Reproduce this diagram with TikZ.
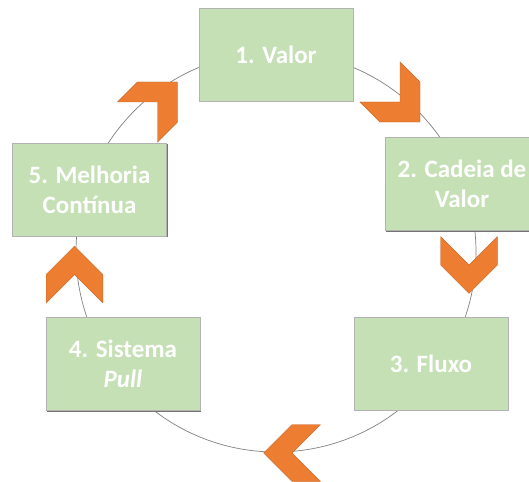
\documentclass[tikz,border=0pt]{standalone}
\usepackage{fontspec}
\setmainfont{Carlito}
\definecolor{stepgreen}{HTML}{C5E0B4}
\definecolor{arroworange}{HTML}{ED7D31}
\definecolor{ringgray}{HTML}{808080}
\begin{document}
\begin{tikzpicture}[x=1pt,y=-1pt,
  stepbox/.style={rectangle, minimum width=154pt, minimum height=93pt,
    fill=stepgreen, draw=black!30, line width=0.5pt, inner sep=0pt,
    text=white, align=center,
    font=\fontsize{25}{30}\selectfont\bfseries},
  boxshadow/.style={fill=black!55},
  chev/.style={fill=arroworange, draw=arroworange!85!black, line width=0.4pt, line join=miter},
  ring/.style={draw=ringgray, line width=0.7pt}]
  \clip (0,0) rectangle (529,481);
  \fill[white] (0,0) rectangle (529,481);

  % cycle ring behind the steps
  \coordinate (hub) at (276,252);
  \draw[ring] (hub) circle[radius=200];

  % drop shadows of the step boxes
  \foreach \cx/\cy in {276/54.5, 462/184, 431/363.5, 123/364, 89.5/189.5}
    \fill[boxshadow] (\cx-77+1.2,\cy-46.5+1.2) rectangle (\cx+77+1.2,\cy+46.5+1.2);

  % the five steps
  \node[stepbox] (valor)    at (276,54.5)  {1. Valor};
  \node[stepbox] (cadeia)   at (462,184)   {2. Cadeia de\\Valor};
  \node[stepbox] (fluxo)    at (431,363.5) {3. Fluxo};
  \node[stepbox] (pull)     at (123,364)   {4. Sistema\\\textit{Pull}};
  \node[stepbox] (melhoria) at (89.5,189.5){5. Melhoria\\Contínua};

  % chevrons showing the direction of the cycle (angles clockwise on the page)
  \foreach \nx/\ny/\rot in {74.5/274.5/0, 157.5/102/45, 400/102/135, 469/265/180, 292/453/270}
    \draw[chev, shift={(\nx,\ny)}, rotate=-\rot]
      (0,-28.3) -- (28.3,0) -- (28.3,28.3) -- (0,0) -- (-28.3,28.3) -- (-28.3,0) -- cycle;
\end{tikzpicture}
\end{document}
